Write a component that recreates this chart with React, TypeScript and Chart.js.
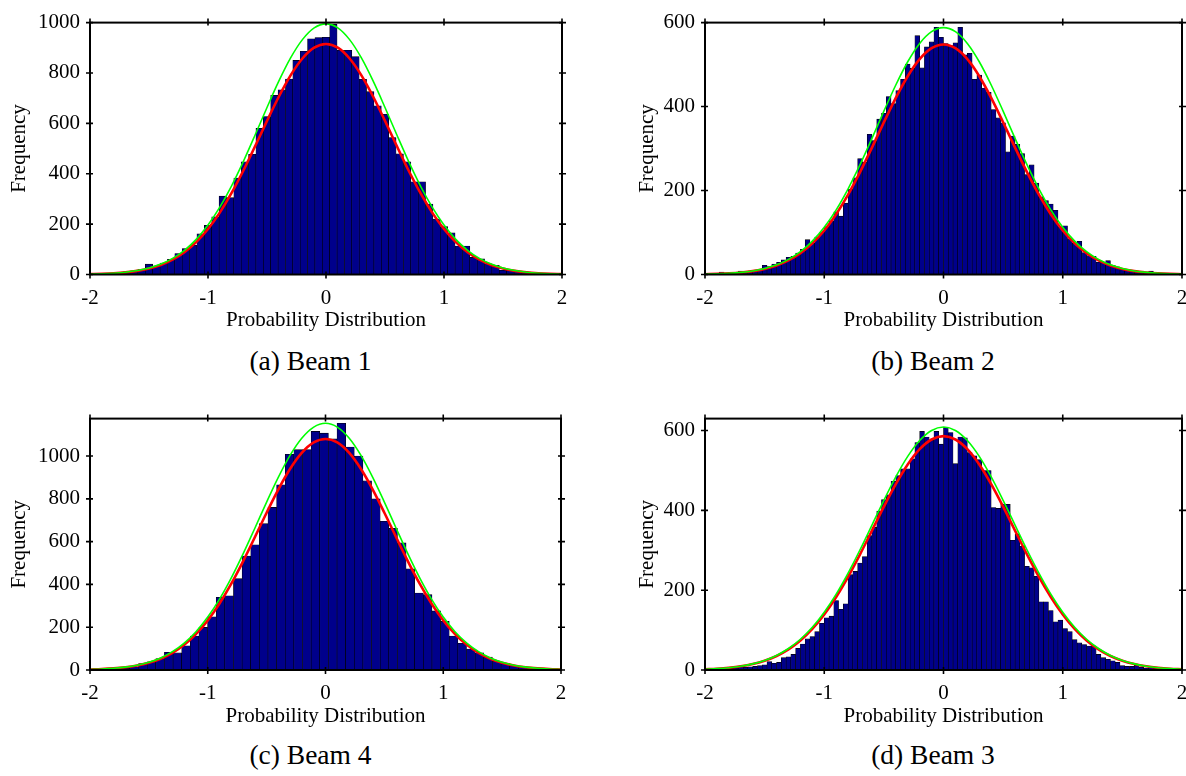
import React, { useEffect, useRef } from 'react';
import { Chart, registerables } from 'chart.js';

Chart.register(...registerables);

// ---------- shared axis data ----------
const xTicks = [-2, -1, 0, 1, 2];
const yTicksA = [0, 200, 400, 600, 800, 1000];
const yTicksB = [0, 200, 400, 600];
const yTicksC = [0, 200, 400, 600, 800, 1000];
const yTicksD = [0, 200, 400, 600];
const curveX = [
  -2, -1.9, -1.8, -1.7, -1.6, -1.5, -1.4, -1.3, -1.2, -1.1, -1, -0.9, -0.8, -0.7, -0.6, -0.5, -0.4, -0.3, -0.2, -0.1,
  0, 0.1, 0.2, 0.3, 0.4, 0.5, 0.6, 0.7, 0.8, 0.9, 1, 1.1, 1.2, 1.3, 1.4, 1.5, 1.6, 1.7, 1.8, 1.9, 2,
];

// ---------- (a) Beam 1 ----------
const binStartA = -1.9375;
const binWidthA = 0.0625;
const countsA = [
  2, 3, 4, 6, 11, 15, 21, 41, 33, 45, 60, 83, 103, 116, 161, 195, 229, 311, 305, 383, 447, 477, 580, 627, 711, 733,
  776, 850, 886, 936, 941, 942, 993, 890, 890, 865, 775, 726, 670, 636, 544, 479, 447, 368, 368, 280, 220, 190, 165,
  113, 113, 68, 62, 42, 36, 17, 17, 13, 10, 6, 4, 2, 1,
];
const redA = [
  1.4, 2.6, 4.8, 8.4, 14.3, 23.7, 38.0, 58.9, 88.4, 128.4, 180.5, 245.7, 323.8, 413.0, 510.1, 609.8, 705.7, 790.6,
  857.5, 900.3, 915, 900.3, 857.5, 790.6, 705.7, 609.8, 510.1, 413.0, 323.8, 245.7, 180.5, 128.4, 88.4, 58.9, 38.0,
  23.7, 14.3, 8.4, 4.8, 2.6, 1.4,
];
const greenA = [
  1.5, 2.8, 5.2, 9.1, 15.6, 25.8, 41.3, 64.0, 96.1, 139.6, 196.3, 267.2, 352.1, 449.1, 554.7, 663.1, 767.4, 859.8,
  932.4, 979.0, 995, 979.0, 932.4, 859.8, 767.4, 663.1, 554.7, 449.1, 352.1, 267.2, 196.3, 139.6, 96.1, 64.0, 41.3,
  25.8, 15.6, 9.1, 5.2, 2.8, 1.5,
];
const yMaxA = 1000;

// ---------- (b) Beam 2 ----------
const binStartB = -1.98;
const binWidthB = 0.04;
const countsB = [
  2, 3, 2, 6, 3, 4, 5, 8, 6, 8,
  10, 12, 22, 19, 25, 29, 35, 41, 43, 51,
  60, 83, 74, 89, 100, 114, 128, 149, 139, 170,
  203, 230, 276, 268, 334, 319, 370, 384, 424, 407,
  438, 465, 501, 491, 569, 492, 542, 554, 589, 565,
  550, 545, 552, 589, 523, 527, 465, 475, 444, 434,
  393, 373, 361, 292, 330, 310, 288, 238, 261, 218,
  185, 176, 168, 153, 114, 116, 85, 74, 79, 52,
  45, 43, 29, 28, 33, 22, 18, 14, 12, 10,
  8, 8, 6, 8, 5, 3, 2, 2, 1, 1,
];
const redB = [
  0.7, 1.4, 2.6, 4.6, 8.0, 13.3, 21.5, 33.5, 50.7, 74.2, 104.9, 143.7, 190.3, 243.8, 302.2, 362.5, 420.7, 472.3,
  512.9, 539.0, 548, 539.0, 512.9, 472.3, 420.7, 362.5, 302.2, 243.8, 190.3, 143.7, 104.9, 74.2, 50.7, 33.5, 21.5,
  13.3, 8.0, 4.6, 2.6, 1.4, 0.7,
];
const greenB = [
  0.8, 1.5, 2.8, 5.0, 8.5, 14.3, 23.0, 36.0, 54.4, 79.6, 112.6, 154.1, 204.2, 261.6, 324.3, 389.0, 451.4, 506.7,
  550.4, 578.4, 588, 578.4, 550.4, 506.7, 451.4, 389.0, 324.3, 261.6, 204.2, 154.1, 112.6, 79.6, 54.4, 36.0, 23.0,
  14.3, 8.5, 5.0, 2.8, 1.5, 0.8,
];
const yMaxB = 600;

// ---------- (c) Beam 4 ----------
const binStartC = -1.9178;
const binWidthC = 0.0733;
const countsC = [
  2, 3, 5, 8, 15, 30, 38, 53, 83, 80, 113, 159, 199, 249, 340, 347, 427, 533, 585, 684, 760, 866, 1008, 1030, 1030,
  1115, 1107, 1080, 1153, 1042, 1000, 884, 800, 695, 662, 594, 473, 360, 352, 276, 227, 159, 125, 98, 80, 60, 41, 30,
  20, 15, 9, 6, 3,
];
const redC = [
  2.3, 4.2, 7.4, 12.6, 21.0, 33.8, 52.9, 80.1, 117.8, 167.8, 231.8, 310.5, 403.3, 508.1, 620.6, 735.1, 844.3, 940.3,
  1015.5, 1063.5, 1080, 1063.5, 1015.5, 940.3, 844.3, 735.1, 620.6, 508.1, 403.3, 310.5, 231.8, 167.8, 117.8, 80.1,
  52.9, 33.8, 21.0, 12.6, 7.4, 4.2, 2.3,
];
const greenC = [
  2.4, 4.5, 7.9, 13.5, 22.4, 36.1, 56.5, 85.6, 125.7, 179.1, 247.5, 331.5, 430.6, 542.4, 662.6, 784.8, 901.4, 1003.9,
  1084.2, 1135.4, 1153, 1135.4, 1084.2, 1003.9, 901.4, 784.8, 662.6, 542.4, 430.6, 331.5, 247.5, 179.1, 125.7, 85.6,
  56.5, 36.1, 22.4, 13.5, 7.9, 4.5, 2.4,
];
const yMaxC = 1175;

// ---------- (d) Beam 3 ----------
const binStartD = -1.98;
const binWidthD = 0.04;
const countsD = [
  2, 3, 2, 3, 6, 4, 5, 9, 7, 8,
  9, 11, 13, 21, 17, 19, 31, 33, 39, 54,
  65, 78, 84, 96, 117, 131, 135, 174, 152, 166,
  239, 247, 268, 284, 337, 358, 398, 427, 439, 473,
  487, 504, 504, 529, 570, 598, 584, 576, 598, 566,
  609, 595, 517, 584, 582, 545, 537, 527, 500, 500,
  407, 405, 416, 415, 325, 340, 310, 260, 256, 235,
  171, 171, 149, 121, 125, 104, 96, 76, 68, 64,
  60, 60, 39, 31, 27, 23, 19, 11, 9, 9,
  12, 7, 5, 8, 4, 2, 2, 3, 1, 1,
];
const redD = [
  1.9, 3.3, 5.6, 9.2, 14.8, 23.1, 35.1, 51.7, 74.1, 103.1, 139.3, 183.1, 233.7, 289.9, 349.4, 409.2, 465.7, 514.9,
  553.3, 577.6, 586, 577.6, 553.3, 514.9, 465.7, 409.2, 349.4, 289.9, 233.7, 183.1, 139.3, 103.1, 74.1, 51.7, 35.1,
  23.1, 14.8, 9.2, 5.6, 3.3, 1.9,
];
const greenD = [
  1.9, 3.4, 5.8, 9.6, 15.4, 24.0, 36.5, 53.8, 77.0, 107.1, 144.8, 190.2, 242.9, 301.3, 363.1, 425.3, 484.0, 535.2,
  575.0, 600.3, 609, 600.3, 575.0, 535.2, 484.0, 425.3, 363.1, 301.3, 242.9, 190.2, 144.8, 107.1, 77.0, 53.8, 36.5,
  24.0, 15.4, 9.6, 5.8, 3.4, 1.9,
];
const yMaxD = 630;

const captions = ['(a) Beam 1', '(b) Beam 2', '(c) Beam 4', '(d) Beam 3'];

// ---------- styling / layout ----------
const SERIF = '"Liberation Serif", "Times New Roman", serif';
const BAR_FILL = '#00008b';

type PanelSpec = {
  counts: number[];
  binStart: number;
  binWidth: number;
  red: number[];
  green: number[];
  yMax: number;
  yTicks: number[];
  left: number;
  top: number;
  w: number;
  h: number;
  yw: number;
  pt: number;
  pr: number;
  xh: number;
};

const panels: PanelSpec[] = [
  { counts: countsA, binStart: binStartA, binWidth: binWidthA, red: redA, green: greenA, yMax: yMaxA, yTicks: yTicksA,
    left: 0, top: 0, w: 580, h: 333, yw: 90, pt: 15, pr: 18, xh: 58.5 },
  { counts: countsB, binStart: binStartB, binWidth: binWidthB, red: redB, green: greenB, yMax: yMaxB, yTicks: yTicksB,
    left: 628, top: 0, w: 558, h: 333, yw: 77, pt: 15, pr: 4, xh: 58.5 },
  { counts: countsC, binStart: binStartC, binWidth: binWidthC, red: redC, green: greenC, yMax: yMaxC, yTicks: yTicksC,
    left: 0, top: 396, w: 580, h: 333, yw: 90, pt: 15, pr: 19, xh: 59 },
  { counts: countsD, binStart: binStartD, binWidth: binWidthD, red: redD, green: greenD, yMax: yMaxD, yTicks: yTicksD,
    left: 628, top: 396, w: 558, h: 333, yw: 77, pt: 15, pr: 4, xh: 59 },
];

const framePlugin = {
  id: 'frameTicks',
  afterDatasetsDraw(chart: any) {
    const { ctx, chartArea: a, scales } = chart;
    ctx.save();
    ctx.strokeStyle = '#000';
    ctx.lineWidth = 2;
    ctx.strokeRect(a.left, a.top, a.right - a.left, a.bottom - a.top);
    ctx.lineWidth = 1.6;
    ctx.beginPath();
    scales.x.ticks.forEach((t: any) => {
      const px = scales.x.getPixelForValue(t.value);
      ctx.moveTo(px, a.bottom - 3);
      ctx.lineTo(px, a.bottom + 4);
      ctx.moveTo(px, a.top - 4);
      ctx.lineTo(px, a.top + 3);
    });
    scales.y.ticks.forEach((t: any) => {
      const py = scales.y.getPixelForValue(t.value);
      ctx.moveTo(a.left - 4, py);
      ctx.lineTo(a.left + 3, py);
      ctx.moveTo(a.right - 3, py);
      ctx.lineTo(a.right + 4, py);
    });
    ctx.stroke();
    ctx.restore();
  },
};

function Panel({ spec }: { spec: PanelSpec }) {
  const ref = useRef<HTMLCanvasElement>(null);

  useEffect(() => {
    const canvas = ref.current;
    if (!canvas) return;
    const bars = spec.counts.map((y, i) => ({ x: spec.binStart + i * spec.binWidth, y }));
    const redPts = curveX.map((x, i) => ({ x, y: spec.red[i] }));
    const greenPts = curveX.map((x, i) => ({ x, y: spec.green[i] }));

    const chart = new Chart(canvas, {
      type: 'bar',
      data: {
        datasets: [
          {
            type: 'line',
            data: greenPts,
            borderColor: '#00ff00',
            borderWidth: 1.6,
            pointRadius: 0,
            fill: false,
            cubicInterpolationMode: 'monotone',
            order: 1,
          } as any,
          {
            type: 'line',
            data: redPts,
            borderColor: '#ff0000',
            borderWidth: 2.6,
            pointRadius: 0,
            fill: false,
            cubicInterpolationMode: 'monotone',
            order: 2,
          } as any,
          {
            type: 'bar',
            data: bars,
            backgroundColor: BAR_FILL,
            borderColor: '#000000',
            borderWidth: 0.6,
            barPercentage: 1,
            categoryPercentage: 1,
            order: 3,
          } as any,
        ],
      },
      options: {
        responsive: false,
        animation: false,
        devicePixelRatio: 1,
        events: [],
        layout: { padding: { top: spec.pt, right: spec.pr, left: 0, bottom: 0 } },
        plugins: { legend: { display: false }, tooltip: { enabled: false }, title: { display: false } },
        scales: {
          x: {
            type: 'linear',
            min: -2,
            max: 2,
            offset: false,
            grid: { display: false, drawTicks: false, offset: false },
            border: { display: false },
            afterBuildTicks: (s: any) => {
              s.ticks = xTicks.map((v) => ({ value: v }));
            },
            ticks: {
              color: '#000',
              font: { family: SERIF, size: 21 },
              padding: 11,
              maxRotation: 0,
              autoSkip: false,
              callback: (v: any) => String(v),
            },
            title: {
              display: true,
              text: 'Probability Distribution',
              color: '#000',
              font: { family: SERIF, size: 21 },
              padding: { top: 0, bottom: 0 },
            },
            afterFit: (s: any) => {
              s.height = spec.xh;
              s.paddingLeft = 0;
              s.paddingRight = 0;
            },
          },
          y: {
            type: 'linear',
            min: 0,
            max: spec.yMax,
            grid: { display: false, drawTicks: false },
            border: { display: false },
            afterBuildTicks: (s: any) => {
              s.ticks = spec.yTicks.map((v) => ({ value: v }));
            },
            ticks: {
              color: '#000',
              font: { family: SERIF, size: 21 },
              padding: 10,
              autoSkip: false,
              callback: (v: any) => String(v),
            },
            title: {
              display: true,
              text: 'Frequency',
              color: '#000',
              font: { family: SERIF, size: 21 },
              padding: { top: 7, bottom: 0 },
            },
            afterFit: (s: any) => {
              s.width = spec.yw;
            },
          },
        },
      } as any,
      plugins: [framePlugin],
    });
    return () => chart.destroy();
  }, [spec]);

  return (
    <canvas
      ref={ref}
      width={spec.w}
      height={spec.h}
      style={{ position: 'absolute', left: spec.left, top: spec.top, width: spec.w, height: spec.h }}
    />
  );
}

const captionBox = [
  { left: 0, width: 621, top: 347 },
  { left: 680, width: 506, top: 347 },
  { left: 0, width: 621, top: 741 },
  { left: 680, width: 506, top: 741 },
];

export default function App() {
  return (
    <div style={{ position: 'absolute', left: 0, top: 0, width: 1186, height: 776, background: '#fff', overflow: 'hidden' }}>
      {panels.map((p, i) => (
        <Panel key={i} spec={p} />
      ))}
      {captions.map((c, i) => (
        <div
          key={c}
          style={{
            position: 'absolute',
            left: captionBox[i].left,
            top: captionBox[i].top,
            width: captionBox[i].width,
            textAlign: 'center',
            fontFamily: SERIF,
            fontSize: 27.5,
            lineHeight: '27.5px',
            color: '#000',
            whiteSpace: 'nowrap',
          }}
        >
          {c}
        </div>
      ))}
    </div>
  );
}
